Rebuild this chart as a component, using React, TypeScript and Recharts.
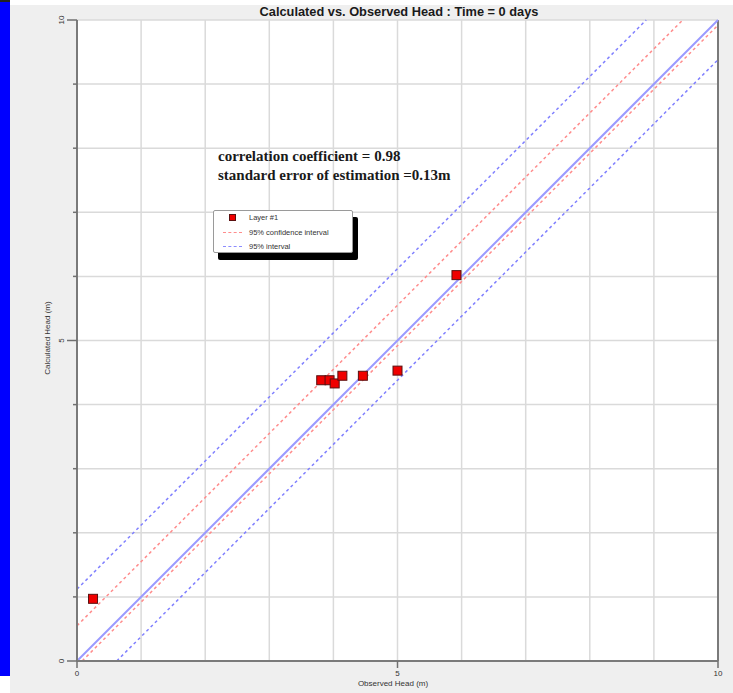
import { ScatterChart, Scatter, XAxis, YAxis, CartesianGrid, ReferenceLine } from "recharts"

// observed vs calculated head at t = 0, one entry per well
const observedHead = [0.25, 3.81, 3.94, 4.02, 4.14, 4.46, 5.0, 5.92]
const calculatedHead = [0.97, 4.38, 4.38, 4.33, 4.45, 4.45, 4.53, 6.02]

const axisTicks = [0, 1, 2, 3, 4, 5, 6, 7, 8, 9, 10]
const labelledTicks = [0, 5, 10]

// band offsets from the 1:1 line (calculated = observed + offset)
const confidenceOffsets = [0.55, -0.08]
const intervalOffsets = [1.12, -0.62]

const correlation = 0.98
const standardError = 0.13

const points = observedHead.map((observed, i) => ({ observed, calculated: calculatedHead[i] }))

const HEAD_MIN = 0
const HEAD_MAX = 10

function offsetSegment(c: number) {
  const x0 = Math.max(HEAD_MIN, HEAD_MIN - c)
  const x1 = Math.min(HEAD_MAX, HEAD_MAX - c)
  return [
    { x: x0, y: x0 + c },
    { x: x1, y: x1 + c },
  ]
}

const tickFont = { fontFamily: "'Liberation Sans', Arial, sans-serif", fontSize: 8, fill: "#333" }

function XTick(props: any) {
  const { x, y, payload } = props
  if (!labelledTicks.includes(payload.value)) return <g />
  return (
    <g>
      <line x1={x} y1={y} x2={x} y2={y + 7} stroke="#707070" strokeWidth={1.5} />
      <text x={x} y={y + 15} textAnchor="middle" {...tickFont}>
        {payload.value}
      </text>
    </g>
  )
}

function YTick(props: any) {
  const { x, y, payload } = props
  const major = labelledTicks.includes(payload.value)
  return (
    <g>
      <line x1={x - (major ? 10 : 4)} y1={y} x2={x} y2={y} stroke="#707070" strokeWidth={1.5} />
      {major && (
        <text x={x - 16} y={y} textAnchor="middle" dominantBaseline="central" transform={`rotate(-90 ${x - 16} ${y})`} {...tickFont}>
          {payload.value}
        </text>
      )}
    </g>
  )
}

function SquareMarker(props: any) {
  const { cx, cy } = props
  const s = 9
  return <rect x={cx - s / 2} y={cy - s / 2} width={s} height={s} fill="#f00000" stroke="#5a1010" strokeWidth={1} />
}

function LegendRow({ marker, label, top }: { marker: "square" | "red" | "blue"; label: string; top: number }) {
  return (
    <div style={{ position: "absolute", left: 0, top, height: 12, width: 140 }}>
      {marker === "square" ? (
        <div style={{ position: "absolute", left: 15, top: 2, width: 7, height: 7, background: "#f00000", border: "1px solid #5a1010", boxSizing: "border-box" }} />
      ) : (
        <div
          style={{
            position: "absolute",
            left: 9,
            top: 5,
            width: 19,
            borderTop: `1.5px dashed ${marker === "red" ? "#ff8c8c" : "#8c8cff"}`,
          }}
        />
      )}
      <span style={{ position: "absolute", left: 35, top: 0, fontSize: 7.5, lineHeight: "12px", color: "#333", whiteSpace: "nowrap" }}>
        {label}
      </span>
    </div>
  )
}

export default function App() {
  return (
    <div
      style={{
        position: "absolute",
        left: 0,
        top: 0,
        width: 733,
        height: 693,
        background: "#fff",
        fontFamily: "'Liberation Sans', Arial, sans-serif",
        overflow: "hidden",
      }}
    >
      <div style={{ position: "absolute", left: 10, top: 5, right: 0, bottom: 0, background: "#efefef" }} />
      <div style={{ position: "absolute", left: 0, top: 0, width: 10, height: 676, background: "#0000ff", borderTop: "2px solid #222", boxSizing: "border-box" }} />

      <div style={{ position: "absolute", left: 0, top: 0 }}>
        <ScatterChart width={733} height={693} margin={{ top: 20, right: 15, bottom: 0, left: 0 }}>
          <CartesianGrid fill="#ffffff" stroke="#dadada" strokeWidth={1.5} />
          <XAxis
            type="number"
            dataKey="observed"
            domain={[HEAD_MIN, HEAD_MAX]}
            ticks={axisTicks}
            height={32}
            tickSize={0}
            tickMargin={0}
            tickLine={false}
            axisLine={{ stroke: "#7a7a7a", strokeWidth: 2 }}
            tick={(p: any) => <XTick {...p} />}
            interval={0}
          />
          <YAxis
            type="number"
            dataKey="calculated"
            domain={[HEAD_MIN, HEAD_MAX]}
            ticks={axisTicks}
            width={77}
            tickSize={0}
            tickMargin={0}
            tickLine={false}
            axisLine={{ stroke: "#7a7a7a", strokeWidth: 2 }}
            tick={(p: any) => <YTick {...p} />}
            interval={0}
          />
          <ReferenceLine x={HEAD_MAX} stroke="#7a7a7a" strokeWidth={2} />
          {intervalOffsets.map((c) => (
            <ReferenceLine key={`pi${c}`} segment={offsetSegment(c)} stroke="#8080ff" strokeWidth={1.5} strokeDasharray="3 3" />
          ))}
          <ReferenceLine segment={offsetSegment(0)} stroke="#9a9aff" strokeWidth={2} />
          {confidenceOffsets.map((c) => (
            <ReferenceLine key={`ci${c}`} segment={offsetSegment(c)} stroke="#ff8c8c" strokeWidth={1.5} strokeDasharray="3 3" />
          ))}
          <Scatter data={points} shape={<SquareMarker />} isAnimationActive={false} />
        </ScatterChart>
      </div>

      <div
        style={{
          position: "absolute",
          left: 0,
          width: 798,
          top: 4,
          textAlign: "center",
          fontWeight: "bold",
          fontSize: 12.8,
          lineHeight: "15px",
          color: "#1a1a1a",
          whiteSpace: "nowrap",
        }}
      >
        Calculated vs. Observed Head : Time = 0 days
      </div>

      <div style={{ position: "absolute", left: 293, width: 200, top: 679, textAlign: "center", fontSize: 8, color: "#333" }}>
        Observed Head (m)
      </div>
      <div
        style={{
          position: "absolute",
          left: 48 - 60,
          width: 120,
          top: 338 - 6,
          height: 12,
          lineHeight: "12px",
          textAlign: "center",
          fontSize: 8,
          color: "#333",
          transform: "rotate(-90deg)",
        }}
      >
        Calculated Head (m)
      </div>

      <div
        style={{
          position: "absolute",
          left: 218,
          top: 147,
          fontFamily: "'Liberation Serif', 'Times New Roman', serif",
          fontWeight: "bold",
          fontSize: 15,
          lineHeight: "19px",
          color: "#1a1a1a",
          whiteSpace: "nowrap",
        }}
      >
        <div>correlation coefficient = {correlation.toFixed(2)}</div>
        <div>standard error of estimation ={standardError.toFixed(2)}m</div>
      </div>

      <div
        style={{
          position: "absolute",
          left: 213,
          top: 210,
          width: 140,
          height: 43,
          background: "#fff",
          border: "1px solid #9a9a9a",
          borderRadius: 2,
          boxSizing: "border-box",
          boxShadow: "5px 7px 0 #000",
        }}
      >
        <LegendRow marker="square" label="Layer #1" top={1} />
        <LegendRow marker="red" label="95% confidence interval" top={16} />
        <LegendRow marker="blue" label="95% interval" top={30} />
      </div>
    </div>
  )
}
